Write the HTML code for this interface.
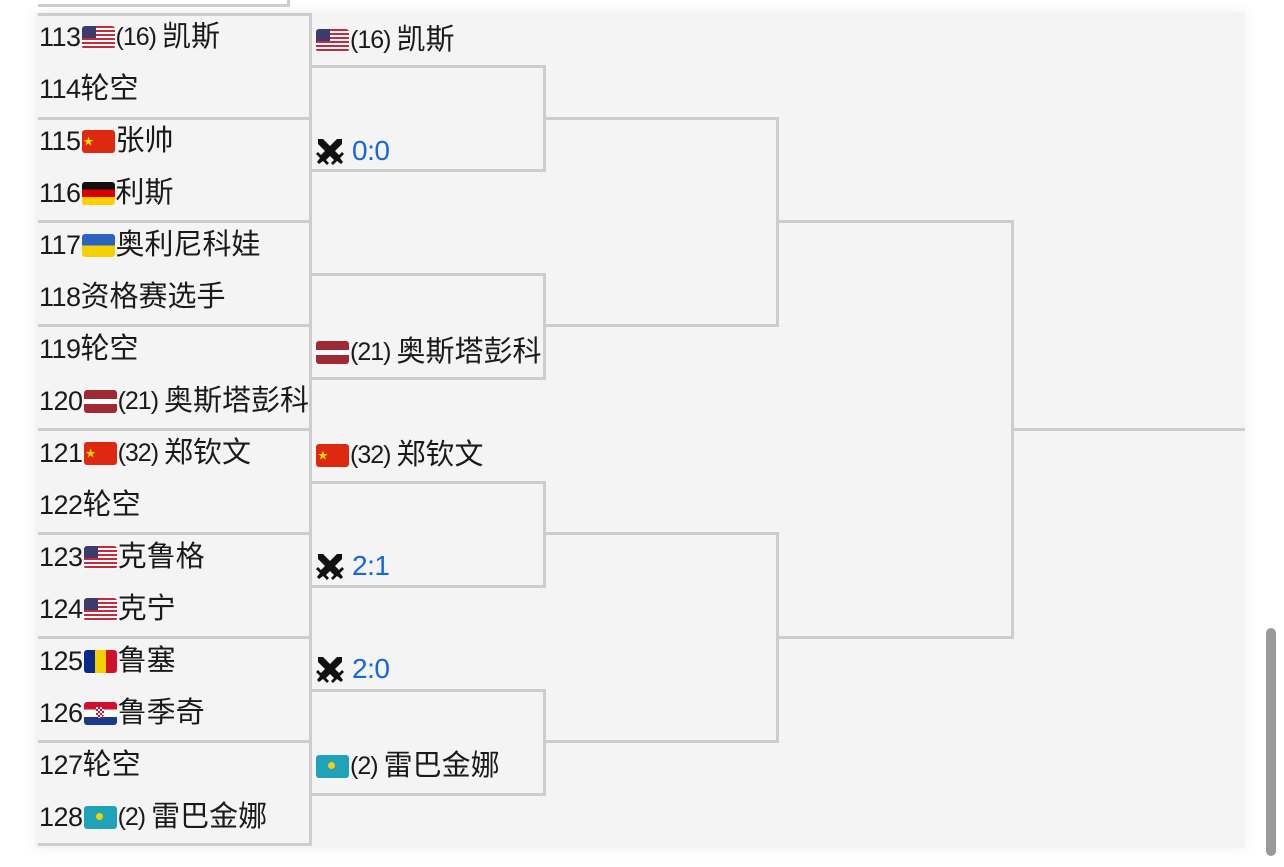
<!DOCTYPE html>
<html><head><meta charset="utf-8"><style>
body{margin:0;width:1284px;height:867px;background:#fff;position:relative;overflow:hidden;font-family:"Liberation Sans","Noto Sans CJK SC",sans-serif;color:#1a1a1a}
.card{position:absolute;left:35px;top:12px;width:1210px;height:836px;background:#f4f4f4;box-shadow:0 0 14px rgba(0,0,0,0.06)}
.h{position:absolute;height:3px;background:#cdcdcd}
.v{position:absolute;width:3px;background:#cdcdcd}
.t{position:absolute;font-size:27px;line-height:32px;white-space:nowrap;display:flex;align-items:center;letter-spacing:-0.5px}
.t b{font-weight:normal;font-size:29px;letter-spacing:0}
.f{display:inline-block;width:33px;height:23px;border-radius:3px;margin:0 1px;position:relative;overflow:hidden}
.us{background:linear-gradient(#3c3b6e,#3c3b6e) 0 0/14px 12px no-repeat,repeating-linear-gradient(#c8283a 0 2px,#fff 2px 4px)}
.cn{background:#de2910}
.cn:after{content:"★";position:absolute;left:2px;top:-3px;color:#ffde00;font-size:10px}
.de{background:linear-gradient(#111 33%,#dd0000 33% 66%,#ffce00 66%)}
.ua{background:linear-gradient(#2b63c0 50%,#f5d000 50%)}
.lv{background:linear-gradient(#9e2a34 40%,#fff 40% 60%,#9e2a34 60%)}
.ro{background:linear-gradient(90deg,#0a2a8a 33%,#f5d000 33% 66%,#d2102c 66%)}
.hr{background:linear-gradient(#d2102c 33%,#fff 33% 66%,#1a3a8a 66%)}
.hr:after{content:"";position:absolute;left:12px;top:5px;width:8px;height:11px;background:repeating-conic-gradient(#d2102c 0 25%,#fff 0 50%) 0 0/4px 4px;border-radius:0 0 4px 4px}
.kz{background:#1fa3b8}
.kz:after{content:"";position:absolute;left:12px;top:7px;width:7px;height:7px;border-radius:50%;background:#f5d000}
.s{font-size:25px;margin-right:6px;letter-spacing:-1px}
.sc{color:#1565e0;font-size:28px}
.sw{width:30px;height:30px;margin-right:7px}
</style></head><body>
<div class="card"></div>
<div class="h" style="left:38px;top:4px;width:251px"></div>
<div class="v" style="left:287px;top:0;height:7px"></div>

<div class="h" style="left:38px;top:13px;width:274px"></div>
<div class="h" style="left:38px;top:117px;width:274px"></div>
<div class="h" style="left:38px;top:220px;width:274px"></div>
<div class="h" style="left:38px;top:324px;width:274px"></div>
<div class="h" style="left:38px;top:428px;width:274px"></div>
<div class="h" style="left:38px;top:532px;width:274px"></div>
<div class="h" style="left:38px;top:636px;width:274px"></div>
<div class="h" style="left:38px;top:740px;width:274px"></div>
<div class="h" style="left:38px;top:843px;width:274px"></div>
<div class="v" style="left:309px;top:13px;height:833px"></div>

<div class="h" style="left:312px;top:65px;width:234px"></div><div class="h" style="left:312px;top:169px;width:234px"></div><div class="v" style="left:543px;top:65px;height:107px"></div>
<div class="h" style="left:312px;top:273px;width:234px"></div><div class="h" style="left:312px;top:377px;width:234px"></div><div class="v" style="left:543px;top:273px;height:107px"></div>
<div class="h" style="left:312px;top:481px;width:234px"></div><div class="h" style="left:312px;top:585px;width:234px"></div><div class="v" style="left:543px;top:481px;height:107px"></div>
<div class="h" style="left:312px;top:689px;width:234px"></div><div class="h" style="left:312px;top:793px;width:234px"></div><div class="v" style="left:543px;top:689px;height:107px"></div>

<div class="h" style="left:546px;top:117px;width:233px"></div><div class="h" style="left:546px;top:324px;width:233px"></div><div class="v" style="left:776px;top:117px;height:210px"></div>
<div class="h" style="left:546px;top:532px;width:233px"></div><div class="h" style="left:546px;top:740px;width:233px"></div><div class="v" style="left:776px;top:532px;height:211px"></div>

<div class="h" style="left:779px;top:220px;width:235px"></div><div class="h" style="left:779px;top:636px;width:235px"></div><div class="v" style="left:1011px;top:220px;height:419px"></div>
<div class="h" style="left:1014px;top:428px;width:231px"></div>

<svg width="0" height="0" style="position:absolute"><defs><g id="sw"><path d="M3 3 L8 3 L24 19 L27 16 L29 18 L25 22 L28 26 L26 28 L22 25 L18 29 L16 27 L19 24 L3 8Z" fill="#111"/><path d="M27 3 L22 3 L6 19 L3 16 L1 18 L5 22 L2 26 L4 28 L8 25 L12 29 L14 27 L11 24 L27 8Z" fill="#111"/></g></defs></svg>

<div class="t" style="left:39px;top:21px">113<span class="f us"></span><span class="s">(16)</span><b>凯斯</b></div>
<div class="t" style="left:39px;top:73px">114<b>轮空</b></div>
<div class="t" style="left:39px;top:125px">115<span class="f cn"></span><b>张帅</b></div>
<div class="t" style="left:39px;top:177px">116<span class="f de"></span><b>利斯</b></div>
<div class="t" style="left:39px;top:229px">117<span class="f ua"></span><b>奥利尼科娃</b></div>
<div class="t" style="left:39px;top:281px">118<b>资格赛选手</b></div>
<div class="t" style="left:39px;top:333px">119<b>轮空</b></div>
<div class="t" style="left:39px;top:385px">120<span class="f lv"></span><span class="s">(21)</span><b>奥斯塔彭科</b></div>
<div class="t" style="left:39px;top:437px">121<span class="f cn"></span><span class="s">(32)</span><b>郑钦文</b></div>
<div class="t" style="left:39px;top:489px">122<b>轮空</b></div>
<div class="t" style="left:39px;top:541px">123<span class="f us"></span><b>克鲁格</b></div>
<div class="t" style="left:39px;top:593px">124<span class="f us"></span><b>克宁</b></div>
<div class="t" style="left:39px;top:645px">125<span class="f ro"></span><b>鲁塞</b></div>
<div class="t" style="left:39px;top:697px">126<span class="f hr"></span><b>鲁季奇</b></div>
<div class="t" style="left:39px;top:749px">127<b>轮空</b></div>
<div class="t" style="left:39px;top:801px">128<span class="f kz"></span><span class="s">(2)</span><b>雷巴金娜</b></div>

<div class="t" style="left:315px;top:24px"><span class="f us"></span><span class="s">(16)</span><b>凯斯</b></div>
<div class="t" style="left:315px;top:135px"><svg class="sw" viewBox="0 0 30 30"><use href="#sw"/></svg><span class="sc">0:0</span></div>
<div class="t" style="left:315px;top:336px"><span class="f lv"></span><span class="s">(21)</span><b>奥斯塔彭科</b></div>
<div class="t" style="left:315px;top:439px"><span class="f cn"></span><span class="s">(32)</span><b>郑钦文</b></div>
<div class="t" style="left:315px;top:550px"><svg class="sw" viewBox="0 0 30 30"><use href="#sw"/></svg><span class="sc">2:1</span></div>
<div class="t" style="left:315px;top:653px"><svg class="sw" viewBox="0 0 30 30"><use href="#sw"/></svg><span class="sc">2:0</span></div>
<div class="t" style="left:315px;top:750px"><span class="f kz"></span><span class="s">(2)</span><b>雷巴金娜</b></div>

<div style="position:absolute;left:1266px;top:628px;width:10px;height:228px;border-radius:5px;background:#9a9a9a"></div>
</body></html>
